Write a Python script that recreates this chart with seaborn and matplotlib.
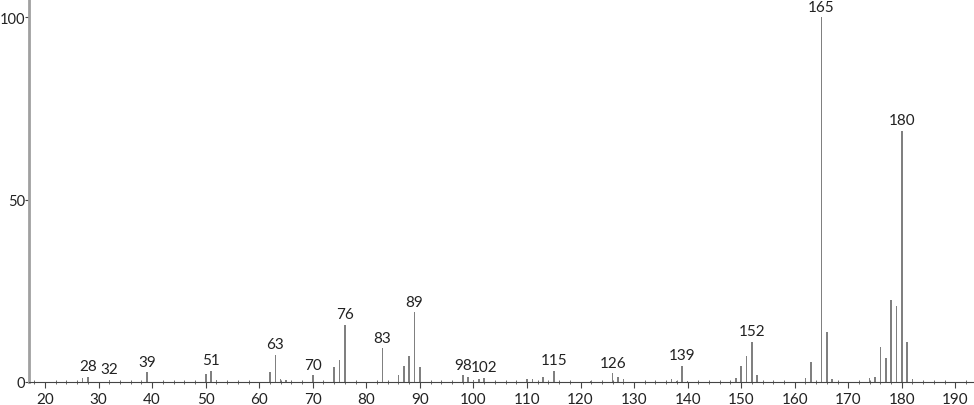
import matplotlib
matplotlib.use("Agg")
import matplotlib.pyplot as plt
import seaborn as sns
import pandas as pd
from matplotlib.ticker import MultipleLocator

# m/z values and relative intensities
mz = [27, 28, 32, 38, 39, 50, 51, 52, 62, 63, 64, 65, 70, 74, 75, 76, 83,
      86, 87, 88, 89, 90, 98, 99, 100, 101, 102, 110, 111, 113, 114, 115,
      122, 126, 127, 128, 137, 138, 139, 140, 149, 150, 151, 152, 153,
      162, 163, 165, 166, 167, 174, 175, 176, 177, 178, 179, 180, 181, 182]
intensity = [1.1, 1.5, 0.6, 0.4, 2.7, 2.2, 3.1, 0.6, 2.7, 7.4, 0.8, 0.5, 1.8,
             4.0, 6.1, 15.7, 9.2, 2.0, 4.3, 7.0, 19.1, 4.1, 1.8, 1.3, 0.6,
             0.8, 1.1, 0.8, 0.8, 1.3, 0.4, 3.1, 0.3, 2.4, 1.3, 0.8, 0.8, 0.4,
             4.5, 0.4, 1.0, 4.4, 7.1, 11.1, 2.0, 1.1, 5.6, 100.0, 13.7, 0.8,
             1.0, 1.4, 9.7, 6.5, 22.5, 20.8, 68.9, 10.9, 0.8]
labeled_peaks = [28, 32, 39, 51, 63, 70, 76, 83, 89, 98, 102, 115, 126,
                 139, 152, 165, 180]
x_ticks = list(range(20, 191, 10))
y_ticks = [0, 50, 100]

df = pd.DataFrame({"mz": mz, "intensity": intensity})

sns.set_style("white")
plt.rcParams["font.family"] = ["Lato", "DejaVu Sans"]

fig = plt.figure(figsize=(9.74, 4.06), dpi=100)
ax = fig.add_axes([29 / 974, 23 / 406, 944 / 974, 383 / 406])

sns.barplot(data=df, x="mz", y="intensity", native_scale=True, width=0.3,
            color="#808080", saturation=1, linewidth=0, ax=ax)

txt_color = "#222222"
for m in labeled_peaks:
    v = intensity[mz.index(m)]
    ax.text(m, v + 1.0, str(m), ha="center", va="bottom", fontsize=11,
            color=txt_color)

ax.set_xlim(17.0, 193.3)
ax.set_ylim(0, 105)
ax.set_xticks(x_ticks)
ax.set_xticklabels([str(t) for t in x_ticks])
ax.xaxis.set_minor_locator(MultipleLocator(2))
ax.set_yticks(y_ticks)
ax.set_yticklabels([str(t) for t in y_ticks])
ax.set_xlabel("")
ax.set_ylabel("")

ax.tick_params(axis="x", which="major", direction="out", length=4, width=0.8,
               colors="#444444", labelcolor=txt_color, labelsize=11, pad=3,
               bottom=True)
ax.tick_params(axis="x", which="minor", direction="inout", length=3, width=0.6,
               colors="#555555", bottom=True)
ax.tick_params(axis="y", which="major", direction="out", length=3, width=0.8,
               colors="#444444", labelcolor=txt_color, labelsize=10.5, pad=0,
               left=True)

for s in ["top", "right"]:
    ax.spines[s].set_visible(False)
ax.spines["left"].set_color("#a0a0a0")
ax.spines["left"].set_linewidth(2)
ax.spines["bottom"].set_color("#444444")
ax.spines["bottom"].set_linewidth(0.8)

fig.savefig("out.png", dpi=100)
